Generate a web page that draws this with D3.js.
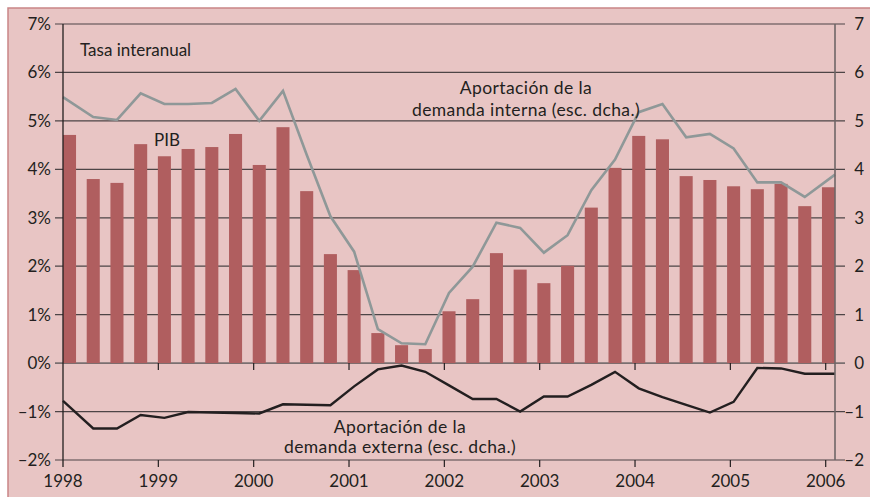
<!DOCTYPE html>
<html>
<head>
<meta charset="utf-8">
<script src="https://cdn.jsdelivr.net/npm/d3@7"></script>
<style>
  body { margin: 0; background: #fff; }
  text { font-family: Lato, "Open Sans", sans-serif; fill: #231f20; }
</style>
</head>
<body>
<svg id="chart" width="870" height="497"></svg>
<script>
// quarters 1998 T1 .. 2006 T1
var quarters = d3.range(33).map(function(i){ return (1998 + Math.floor(i / 4)) + "T" + (i % 4 + 1); });

// PIB, tasa interanual (%)
var pib = [4.71, 3.80, 3.72, 4.52, 4.27, 4.42, 4.46, 4.73, 4.09, 4.87, 3.55, 2.25,
           1.92, 0.62, 0.37, 0.29, 1.07, 1.32, 2.27, 1.93, 1.65, 2.01, 3.21, 4.03,
           4.69, 4.62, 3.86, 3.78, 3.65, 3.59, 3.70, 3.24, 3.63];

// Aportacion de la demanda interna (esc. dcha.)
var internal = [5.49, 5.08, 5.02, 5.57, 5.35, 5.35, 5.37, 5.66, 5.00, 5.62, 4.30, 3.03,
                2.30, 0.70, 0.41, 0.39, 1.45, 1.99, 2.90, 2.79, 2.28, 2.64, 3.57, 4.20,
                5.18, 5.35, 4.66, 4.73, 4.43, 3.73, 3.73, 3.43, 3.89];

// Aportacion de la demanda externa (esc. dcha.)
var external = [-0.78, -1.35, -1.35, -1.07, -1.13, -1.01, -1.02, -1.03, -1.04, -0.85, -0.86, -0.87,
                -0.48, -0.13, -0.05, -0.18, -0.46, -0.74, -0.74, -1.00, -0.69, -0.69, -0.45, -0.18,
                -0.52, -0.70, -0.86, -1.02, -0.80, -0.10, -0.11, -0.22, -0.22];

var years = [1998, 1999, 2000, 2001, 2002, 2003, 2004, 2005, 2006];
var leftTicks = [-2, -1, 0, 1, 2, 3, 4, 5, 6, 7];

var pink = "#e8c5c4",
    barColor = "#b05e5f",
    grayLine = "#8f9898",
    dark = "#231f20";

var svg = d3.select("#chart");

// panel
svg.append("rect")
  .attr("x", 8).attr("y", 8)
  .attr("width", 870).attr("height", 497)
  .style("fill", pink)
  .style("stroke", "#c98586")
  .style("stroke-width", 1.5);

var plotLeft = 63, plotRight = 835, plotTop = 24, plotBottom = 460;

// scales
var x = d3.scaleLinear().domain([1998, 2006]).range([plotLeft, 825.7]);
var xq = d3.scaleBand().domain(quarters).range([plotLeft, plotRight]).paddingInner(0.45).paddingOuter(0);
var y = d3.scaleLinear().domain([-2, 7]).range([plotBottom, plotTop]);

// grid lines
svg.append("g").selectAll("line")
  .data(leftTicks)
  .enter().append("line")
  .attr("x1", plotLeft - 8)
  .attr("x2", plotRight + 10)
  .attr("y1", function(d){ return y(d); })
  .attr("y2", function(d){ return y(d); })
  .style("stroke", function(d){ return d === 0 ? "#7a6f70" : "#4d4546"; })
  .style("stroke-width", function(d){ return d === 0 ? 1.6 : 1.2; });

// bars
svg.append("g").selectAll("rect")
  .data(pib)
  .enter().append("rect")
  .attr("x", function(d, i){ return xq(quarters[i]); })
  .attr("width", xq.bandwidth())
  .attr("y", function(d){ return y(d); })
  .attr("height", function(d){ return y(0) - y(d); })
  .style("fill", barColor);

// lines: first and last points sit on the axes
function px(d, i, arr){
  if(i === 0) return plotLeft;
  if(i === arr.length - 1) return plotRight;
  return xq(quarters[i]) + xq.bandwidth() / 2;
}
var line = d3.line()
  .x(function(d, i, arr){ return px(d, i, arr); })
  .y(function(d){ return y(d); });

svg.append("path")
  .datum(internal)
  .attr("d", line)
  .style("fill", "none")
  .style("stroke", grayLine)
  .style("stroke-width", 2.6);

svg.append("path")
  .datum(external)
  .attr("d", line)
  .style("fill", "none")
  .style("stroke", dark)
  .style("stroke-width", 2.4);

// axes
svg.append("line")
  .attr("x1", plotLeft).attr("x2", plotLeft)
  .attr("y1", plotTop).attr("y2", plotBottom + 7)
  .style("stroke", dark).style("stroke-width", 1.3);

svg.append("line")
  .attr("x1", plotRight).attr("x2", plotRight)
  .attr("y1", plotTop).attr("y2", plotBottom)
  .style("stroke", "#6f6667").style("stroke-width", 1.6);

// year ticks under 0 line and under bottom line
[0, -2].forEach(function(v){
  svg.append("g").selectAll("line")
    .data(years.slice(1))
    .enter().append("line")
    .attr("x1", function(d){ return x(d); })
    .attr("x2", function(d){ return x(d); })
    .attr("y1", y(v))
    .attr("y2", y(v) + 7)
    .style("stroke", dark)
    .style("stroke-width", 1.2);
});

// tick labels
function minus(d){ return d < 0 ? "\u2013" + Math.abs(d) : "" + d; }

svg.append("g").selectAll("text")
  .data(leftTicks)
  .enter().append("text")
  .attr("x", 51)
  .attr("y", function(d){ return y(d) + 6; })
  .attr("text-anchor", "end")
  .style("font-size", "17px")
  .text(function(d){ return minus(d) + "%"; });

svg.append("g").selectAll("text")
  .data(leftTicks)
  .enter().append("text")
  .attr("x", 864)
  .attr("y", function(d){ return y(d) + 6; })
  .attr("text-anchor", "end")
  .style("font-size", "17px")
  .text(function(d){ return minus(d); });

svg.append("g").selectAll("text")
  .data(years)
  .enter().append("text")
  .attr("x", function(d){ return x(d); })
  .attr("y", 487)
  .attr("text-anchor", "middle")
  .style("font-size", "17px")
  .text(function(d){ return d; });

// annotations
svg.append("text")
  .attr("x", 80).attr("y", 56)
  .style("font-size", "17px")
  .text("Tasa interanual");

svg.append("text")
  .attr("x", 154).attr("y", 146)
  .style("font-size", "17px")
  .text("PIB");

var notes = [
  {x: 526, y: 94, t: "Aportación de la"},
  {x: 526, y: 116, t: "demanda interna (esc. dcha.)"},
  {x: 400, y: 433, t: "Aportación de la"},
  {x: 400, y: 453, t: "demanda externa (esc. dcha.)"}
];
svg.append("g").selectAll("text")
  .data(notes)
  .enter().append("text")
  .attr("x", function(d){ return d.x; })
  .attr("y", function(d){ return d.y; })
  .attr("text-anchor", "middle")
  .style("font-size", "17.5px")
  .style("letter-spacing", "0.4px")
  .text(function(d){ return d.t; });
</script>
</body>
</html>
